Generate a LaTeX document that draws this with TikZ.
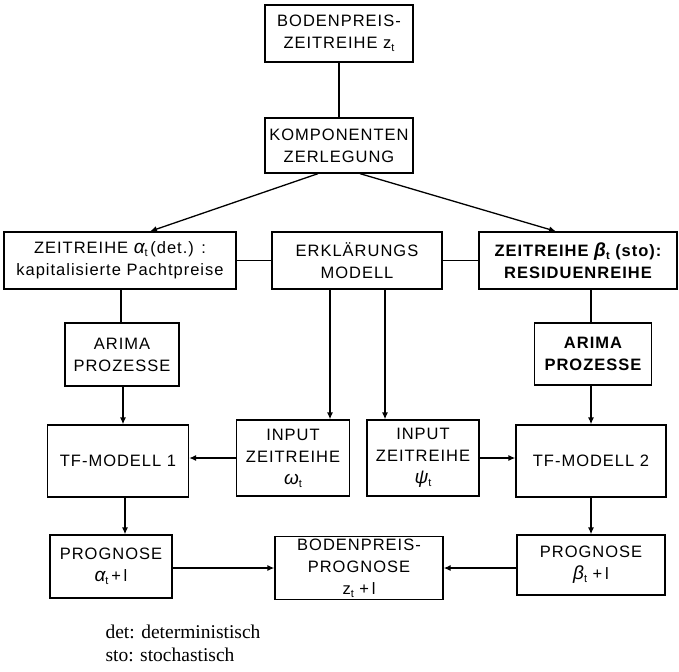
\documentclass[tikz,border=0pt]{standalone}
\usepackage{fontspec}
\setmainfont{Liberation Sans}[LetterSpace=6]
\newfontfamily\notefont{Liberation Serif}
\usetikzlibrary{arrows.meta}
\newcommand{\subt}{\raisebox{-0.35ex}{\fontsize{11}{11}\selectfont t}}
\newcommand{\gr}[1]{{\fontsize{19}{21}\selectfont\itshape #1}}
\tikzset{
  box/.style={draw, line width=1.3pt, align=center, inner sep=2pt, font=\fontsize{16.5}{22}\selectfont},
  boldbox/.style={box, font=\bfseries\fontsize{16.5}{22}\selectfont},
  conn/.style={line width=1.3pt},
  arr/.style={line width=1.3pt, -{Latex[length=7pt,width=6pt]}},
  note/.style={anchor=west, font=\notefont\fontsize{19.5}{23}\selectfont}
}
\begin{document}
\begin{tikzpicture}[x=1pt,y=-1pt]
\useasboundingbox (0,0) rectangle (679,671);
\node[box, minimum width=148, minimum height=57] (top) at (339,33.5) {BODENPREIS-\\ZEITREIHE z\subt};
\node[box, minimum width=148, minimum height=55] (komp) at (339,145.5) {KOMPONENTEN\\ZERLEGUNG};
\node[box, minimum width=232, minimum height=57] (alpha) at (120,260.5) {ZEITREIHE \gr{α}\subt\,(det.) :\\kapitalisierte Pachtpreise};
\node[box, minimum width=170, minimum height=57] (erkl) at (357,260.5) {ERKLÄRUNGS\\MODELL};
\node[boldbox, minimum width=198, minimum height=57] (beta) at (578,260.5) {ZEITREIHE \gr{β}\subt\ (sto):\\RESIDUENREIHE};
\node[box, minimum width=114, minimum height=63] (arimaL) at (122,354.5) {ARIMA\\PROZESSE};
\node[boldbox, minimum width=117, minimum height=62] (arimaR) at (593,354) {ARIMA\\PROZESSE};
\node[box, minimum width=141, minimum height=72] (tf1) at (118,461) {TF-MODELL 1};
\node[box, minimum width=113, minimum height=76] (inW) at (293,458) {INPUT\\ZEITREIHE\\\gr{ω}\subt};
\node[box, minimum width=112, minimum height=76] (inP) at (423,458) {INPUT\\ZEITREIHE\\\gr{ψ}\subt};
\node[box, minimum width=150, minimum height=72] (tf2) at (591,461) {TF-MODELL 2};
\node[box, minimum width=122, minimum height=63] (progA) at (111,566.5) {PROGNOSE\\\gr{α}\subt\,+\,l};
\node[box, minimum width=168, minimum height=60] (bp) at (359,568) {BODENPREIS-\\PROGNOSE\\z\subt\ +\,l};
\node[box, minimum width=148, minimum height=60] (progB) at (591,565) {PROGNOSE\\\gr{β}\subt\ +\,l};
\node[note] (n1) at (102,632) {det: deterministisch};
\node[note] (n2) at (102,655) {sto: stochastisch};
% connectors
\draw[conn] (top) -- (komp);
\draw[arr] (komp.south -| 318,0) -- (alpha.north -| 150,0);
\draw[arr] (komp.south -| 360,0) -- (beta.north -| 556,0);
\draw[conn] (alpha) -- (erkl);
\draw[conn] (erkl) -- (beta);
\draw[conn] (alpha.south -| 121,0) -- (arimaL.north -| 121,0);
\draw[conn] (beta.south -| 591,0) -- (arimaR.north -| 591,0);
\draw[arr] (arimaL.south -| 123,0) -- (tf1.north -| 123,0);
\draw[arr] (arimaR.south -| 591,0) -- (tf2.north -| 591,0);
\draw[arr] (erkl.south -| 330,0) -- (inW.north -| 330,0);
\draw[arr] (erkl.south -| 385,0) -- (inP.north -| 385,0);
\draw[arr] (inW) -- (tf1.east |- inW);
\draw[arr] (inP) -- (tf2.west |- inP);
\draw[arr] (tf1.south -| 125,0) -- (progA.north -| 125,0);
\draw[arr] (tf2.south -| 591,0) -- (progB.north -| 591,0);
\draw[arr] (progA.east |- bp) -- (bp);
\draw[arr] (progB.west |- bp) -- (bp);
\end{tikzpicture}
\end{document}
